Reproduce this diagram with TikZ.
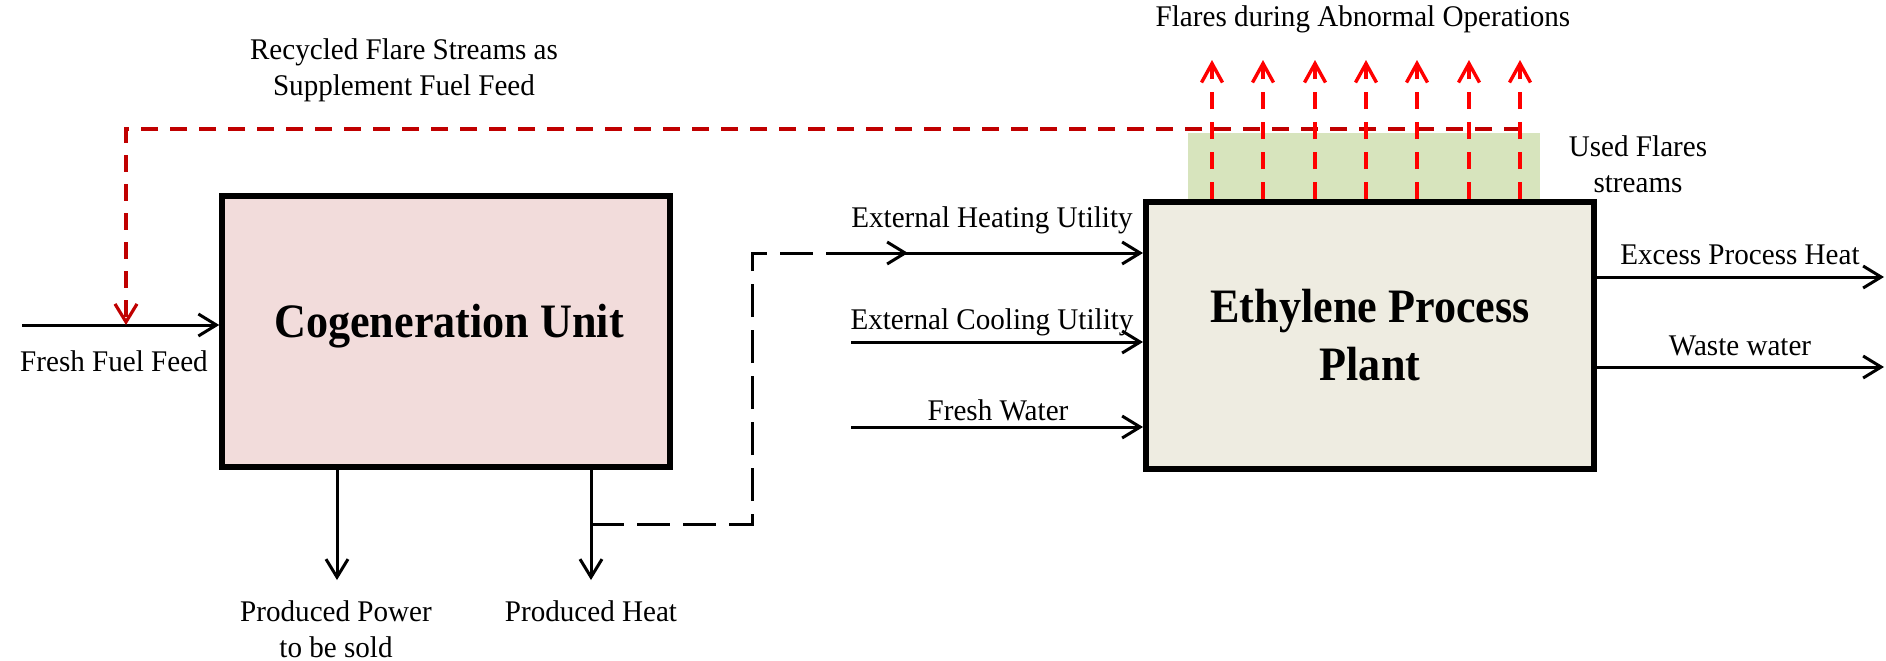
\documentclass[tikz,border=0pt]{standalone}
\usepackage{fontspec}
\setmainfont{Liberation Serif}
\newfontfamily\lblfont[FakeStretch=0.97]{Liberation Serif}
\newfontfamily\titlefont[FakeStretch=0.92]{Liberation Serif Bold}
\usetikzlibrary{arrows.meta}
\definecolor{cogfill}{HTML}{F2DCDB}
\definecolor{ethfill}{HTML}{EEECE1}
\definecolor{usedgreen}{HTML}{D7E4BD}
\definecolor{recred}{HTML}{C00000}
\definecolor{flred}{HTML}{FF0000}
\begin{document}
\begin{tikzpicture}[x=0.5pt,y=-0.5pt,
  unitbox/.style={draw=black,line width=3pt,rectangle,inner sep=0pt,
    font=\fontsize{24}{29}\titlefont,align=center},
  lbl/.style={font=\fontsize{15}{18}\lblfont,align=center,inner sep=0pt},
  arr/.style={line width=1.5pt,-{Straight Barb[length=9pt,width=11pt,line width=1.5pt]}},
  dasharr/.style={arr,dash pattern=on 16.5pt off 6.5pt},
  recarr/.style={draw=recred,line width=2pt,dash pattern=on 8.3pt off 6.2pt,
    -{Straight Barb[length=9pt,width=11pt,line width=1.6pt]}},
  flarr/.style={draw=flred,line width=1.7pt,dash pattern=on 8.5pt off 6.5pt,
    -{Straight Barb[length=9.5pt,width=10.5pt,line width=1.7pt]}}]
\useasboundingbox (0,0) rectangle (1886,660);
% green used flares area
\fill[usedgreen] (1188,133) rectangle (1540,202);
% boxes
\node[unitbox,fill=cogfill,minimum width=223.75pt,minimum height=135.5pt] (cog) at (446,331.5) {};
\node[font=\fontsize{24}{29}\titlefont,inner sep=0pt,anchor=base] (cogtxt) at (449,337) {Cogeneration Unit};
\node[unitbox,fill=ethfill,minimum width=224pt,minimum height=133.5pt] (eth) at (1370,335.5) {Ethylene Process\\Plant};
% coordinates
\coordinate (ffin) at (22,325);
\coordinate (ffjoin) at (126,325);
\coordinate (rcstart) at (1521,129);
\coordinate (hin) at (851,253);
\coordinate (cin) at (851,342);
\coordinate (win) at (851,427);
\coordinate (exout) at (1884,277);
\coordinate (wwout) at (1884,367);
\coordinate (ppout) at (337,580);
\coordinate (phout) at (591,580);
\coordinate (phsplit) at (591,524);
\coordinate (dcorner) at (752,524);
\coordinate (dtip) at (908,253);
% fresh fuel
\draw[arr] (ffin) -- (ffin -| cog.west);
% recycled flares
\draw[recarr] (rcstart) -| (ffjoin);
% flares
\foreach \x [count=\i] in {1212,1263,1315,1366,1417,1469,1520}{
  \coordinate (fl\i) at (\x,60);
  \draw[flarr] (fl\i |- eth.north) -- (fl\i);
}
% inputs
\draw[arr] (hin) -- (hin -| eth.west);
\draw[arr] (cin) -- (cin -| eth.west);
\draw[arr] (win) -- (win -| eth.west);
% outputs
\draw[arr] (exout -| eth.east) -- (exout);
\draw[arr] (wwout -| eth.east) -- (wwout);
% cogeneration outputs
\draw[arr] (ppout |- cog.south) -- (ppout);
\draw[arr] (phout |- cog.south) -- (phout);
\draw[dasharr] (phsplit) -- (dcorner) |- (dtip);
% labels
\node[lbl] (lff) at (114,361) {Fresh Fuel Feed};
\node[lbl] (lrec) at (404,70) {Recycled Flare Streams as\\Supplement Fuel Feed};
\node[lbl] (lfl) at (1363,19) {Flares during Abnormal Operations};
\node[lbl] (lused) at (1638,164) {Used Flares\\streams};
\node[lbl] (lh) at (992,220) {External Heating Utility};
\node[lbl] (lc) at (992,322) {External Cooling Utility};
\node[lbl] (lw) at (998,410) {Fresh Water};
\node[lbl] (lex) at (1740,255) {Excess Process Heat};
\node[lbl] (lww) at (1740,346) {Waste water};
\node[lbl] (lpp) at (336,629) {Produced Power\\to be sold};
\node[lbl] (lph) at (591,611) {Produced Heat};
\end{tikzpicture}
\end{document}
